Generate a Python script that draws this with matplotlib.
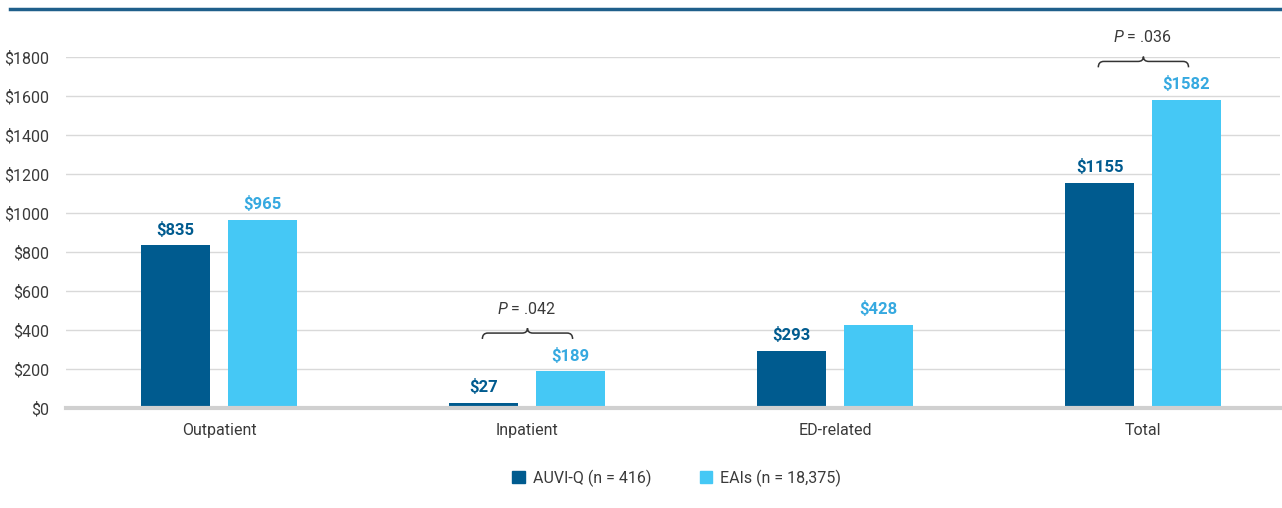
import numpy as np
import matplotlib
matplotlib.use("Agg")
import matplotlib.pyplot as plt
from matplotlib.path import Path
from matplotlib.patches import PathPatch, Patch

plt.rcParams["font.family"] = ["Roboto", "DejaVu Sans"]
plt.rcParams["mathtext.fontset"] = "custom"
plt.rcParams["mathtext.it"] = "Roboto:italic"
plt.rcParams["mathtext.rm"] = "Roboto"

# data
categories = ["Outpatient", "Inpatient", "ED-related", "Total"]
auvi_q = [835, 27, 293, 1155]
eais = [965, 189, 428, 1582]
series_names = ["AUVI-Q (n = 416)", "EAIs (n = 18,375)"]
p_labels = {1: ".042", 3: ".036"}

dark = "#005b8f"
light = "#45c8f5"
light_txt = "#36a9e0"
txt = "#3a3a3a"

fig = plt.figure(figsize=(12.82, 5.08), dpi=100)
ax = fig.add_axes([66 / 1282, 100 / 508, 1214 / 1282, 351 / 508])

x = np.arange(len(categories))
w = 0.224
off = 0.141
ax.bar(x - off, auvi_q, w, color=dark, zorder=3)
ax.bar(x + off, eais, w, color=light, zorder=3)

for xi, v in zip(x, auvi_q):
    ax.text(xi - off, v + 80, "${}".format(v), ha="center", va="center",
            fontsize=12, fontweight="bold", color=dark)
for xi, v in zip(x, eais):
    ax.text(xi + off, v + 80, "${}".format(v), ha="center", va="center",
            fontsize=12, fontweight="bold", color=light_txt)


def brace(ax, x0, x1, y0, h):
    xc = (x0 + x1) / 2
    r = (x1 - x0) * 0.06
    ym = y0 + h * 0.55
    verts = [(x0, y0), (x0, ym), (x0 + r, ym),
             (xc - r, ym), (xc, ym), (xc, y0 + h),
             (xc, ym), (xc + r, ym),
             (x1 - r, ym), (x1, ym), (x1, y0)]
    codes = [Path.MOVETO, Path.CURVE3, Path.CURVE3,
             Path.LINETO, Path.CURVE3, Path.CURVE3,
             Path.CURVE3, Path.CURVE3,
             Path.LINETO, Path.CURVE3, Path.CURVE3]
    ax.add_patch(PathPatch(Path(verts, codes), fill=False, lw=1.1,
                           ec="#333333", clip_on=False, zorder=4))


for i, p in p_labels.items():
    top = max(auvi_q[i], eais[i])
    y0 = top + 165
    brace(ax, i - 0.145, i + 0.148, y0, 55)
    ax.text(i, y0 + 155, r"$\mathit{P}$ = " + p, ha="center", va="center",
            fontsize=11.5, color=txt, clip_on=False)

ax.set_xlim(-0.497, 3.445)
ax.set_ylim(0, 1800)
ax.set_yticks(np.arange(0, 1801, 200))
ax.set_yticklabels(["${}".format(t) for t in range(0, 1801, 200)])
ax.set_xticks(x)
ax.set_xticklabels(categories)
ax.tick_params(axis="both", length=0, labelsize=11.5, colors=txt)
ax.tick_params(axis="x", pad=11)
ax.tick_params(axis="y", pad=12)
ax.grid(axis="y", color="#d9d9d9", lw=1, zorder=0)
for s in ["top", "right", "left"]:
    ax.spines[s].set_visible(False)
ax.spines["bottom"].set_color("#d0d0d0")
ax.spines["bottom"].set_linewidth(3)
ax.spines["bottom"].set_zorder(4)

# top rule
fig.add_artist(plt.Line2D([10 / 1282, 1], [1 - 9 / 508, 1 - 9 / 508],
                          color="#1f5f8b", lw=2.5))

handles = [Patch(color=dark), Patch(color=light)]
fig.legend(handles, series_names, loc="center", bbox_to_anchor=(0.528, 1 - 478 / 508),
           ncol=2, frameon=False, fontsize=11.5, handlelength=0.8, handleheight=0.8,
           columnspacing=3.0, handletextpad=0.5, labelcolor=txt)

fig.savefig("out.png", dpi=100, facecolor="white")
